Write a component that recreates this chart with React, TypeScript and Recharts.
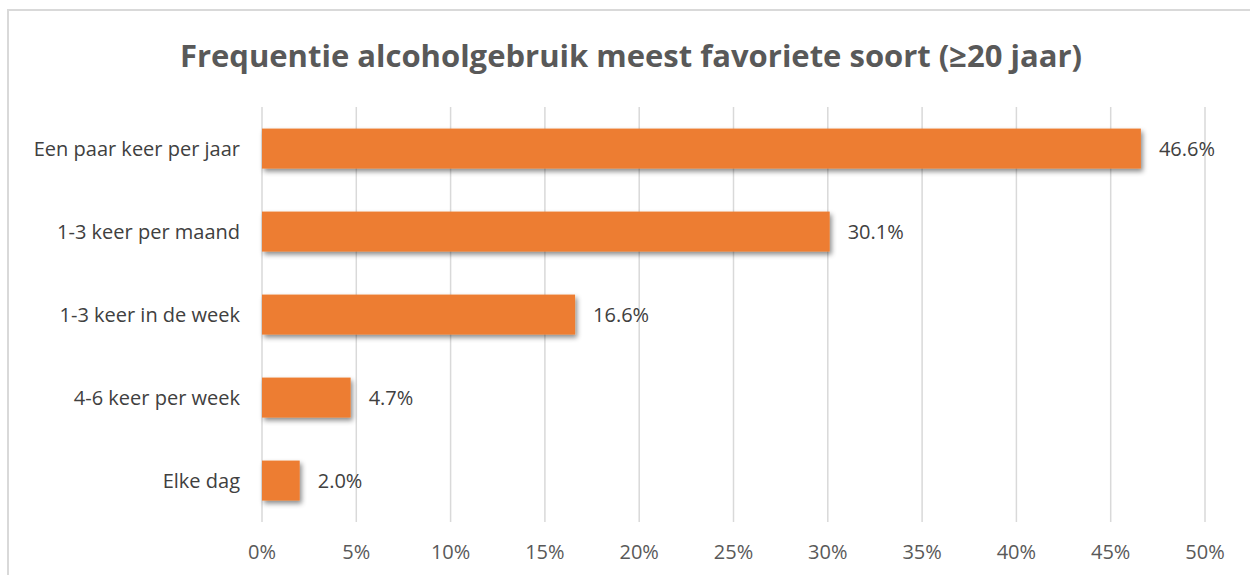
import React from 'react';
import { BarChart, Bar, XAxis, YAxis, CartesianGrid, LabelList } from 'recharts';

const categories = [
  'Een paar keer per jaar',
  '1-3 keer per maand',
  '1-3 keer in de week',
  '4-6 keer per week',
  'Elke dag',
];
const percentages = [46.6, 30.1, 16.6, 4.7, 2.0];
const xTicks = [0, 5, 10, 15, 20, 25, 30, 35, 40, 45, 50];

const chartData = categories.map((name, i) => ({ name, value: percentages[i] }));

const FONT = '"Open Sans", "Noto Sans", sans-serif';
const ORANGE = '#ED7D31';

const ShadowBar = (props: any) => {
  const { x, y, width, height } = props;
  return (
    <g>
      <defs>
        <filter id="barShadow" x="-20%" y="-20%" width="150%" height="160%">
          <feDropShadow dx="2" dy="3" stdDeviation="2.5" floodColor="#000" floodOpacity="0.45" />
        </filter>
      </defs>
      <rect x={x} y={y} width={width} height={height} fill={ORANGE} filter="url(#barShadow)" />
    </g>
  );
};

export default function App() {
  return (
    <div style={{ position: 'absolute', left: 0, top: 0, width: 1250, height: 575, overflow: 'hidden', background: '#fff' }}>
      <div
        style={{
          position: 'absolute',
          left: 7,
          top: 9,
          width: 1300,
          height: 700,
          border: '2px solid #d9d9d9',
          boxSizing: 'border-box',
        }}
      />
      <div
        style={{
          position: 'absolute',
          left: 0,
          width: 1262,
          top: 35,
          textAlign: 'center',
          fontFamily: FONT,
          fontWeight: 700,
          fontSize: 31,
          color: '#595959',
          lineHeight: '40px',
        }}
      >
        Frequentie alcoholgebruik meest favoriete soort (≥20 jaar)
      </div>
      <div style={{ position: 'absolute', left: 0, top: 0 }}>
        <BarChart
          width={1250}
          height={575}
          data={chartData}
          layout="vertical"
          margin={{ top: 107, right: 45, bottom: 23, left: 12 }}
          barCategoryGap="26%"
        >
          <CartesianGrid horizontal={false} stroke="#d9d9d9" strokeWidth={1.5} />
          <XAxis
            type="number"
            domain={[0, 50]}
            ticks={xTicks}
            tickFormatter={(v: number) => `${v}%`}
            axisLine={false}
            tickLine={false}
            tickSize={0}
            tickMargin={23}
            height={30}
            tick={{ fill: '#595959', fontSize: 20, fontFamily: FONT }}
          />
          <YAxis
            type="category"
            dataKey="name"
            width={250}
            axisLine={false}
            tickLine={false}
            tickSize={0}
            tickMargin={22}
            tick={{ fill: '#404040', fontSize: 20, fontFamily: FONT }}
          />
          <Bar dataKey="value" shape={<ShadowBar />} isAnimationActive={false}>
            <LabelList
              dataKey="value"
              position="right"
              offset={18}
              formatter={(v: any) => `${Number(v).toFixed(1)}%`}
              style={{ fill: '#404040', fontSize: 20, fontFamily: FONT }}
            />
          </Bar>
        </BarChart>
      </div>
    </div>
  );
}
